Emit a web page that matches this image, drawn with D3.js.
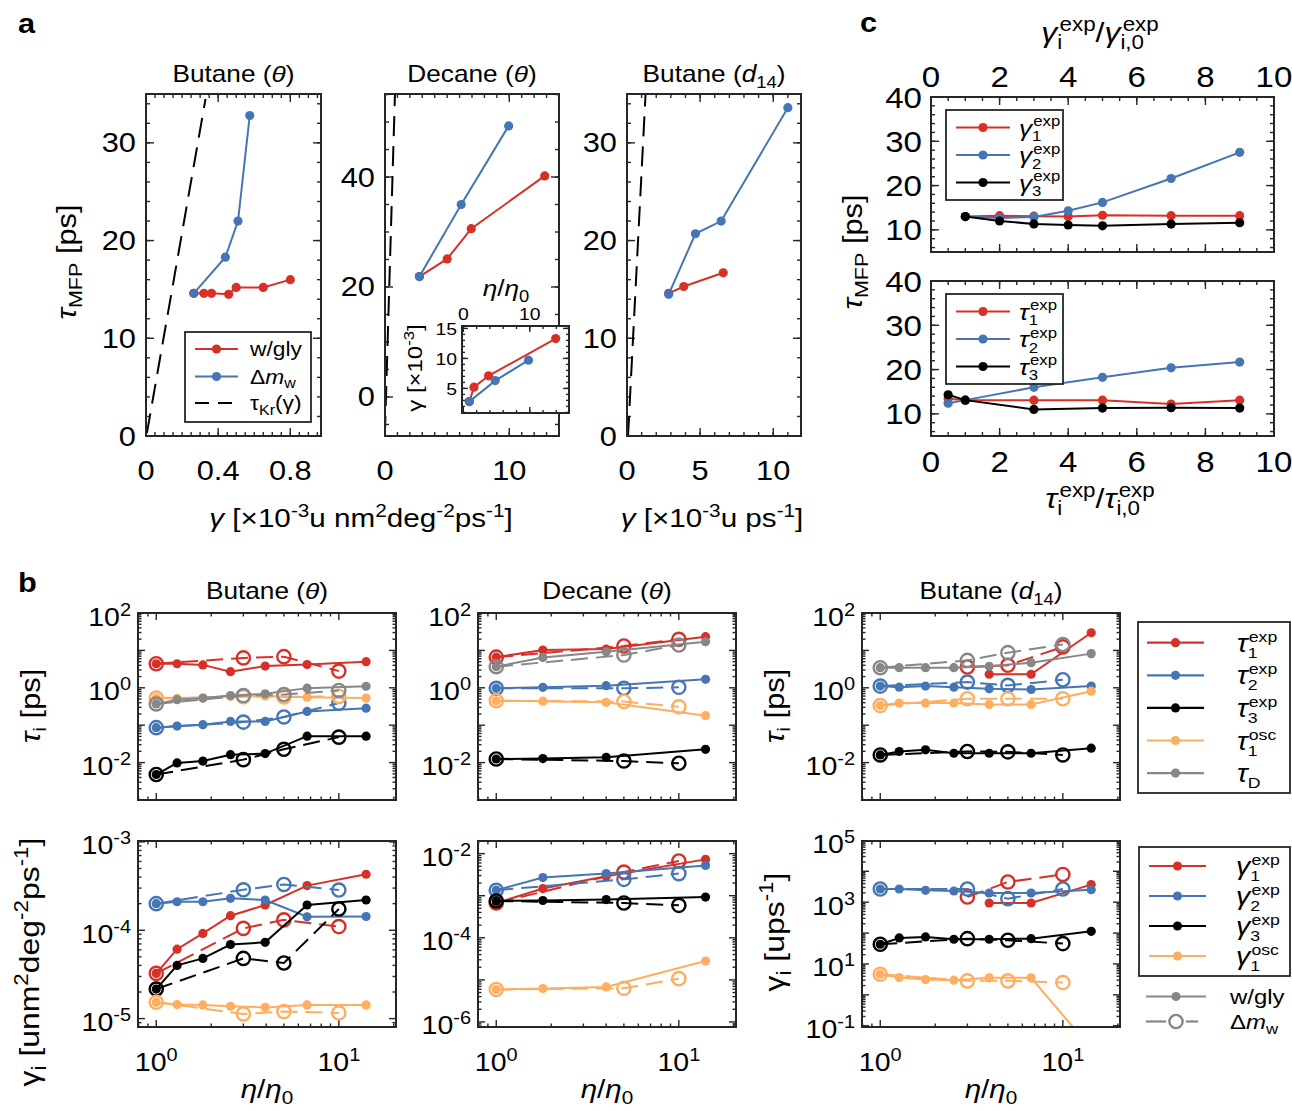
<!DOCTYPE html>
<html><head><meta charset="utf-8">
<script src="https://cdn.jsdelivr.net/npm/d3@7"></script>
<style>body{margin:0;background:#fff} text{white-space:pre}</style>
</head><body>
<script>
// ================= DATA =================
// ---- Panel a : tau_MFP vs gamma ----
const aButGlyGamma = [0.265, 0.321, 0.363, 0.458, 0.50, 0.65, 0.80];
const aButGlyTau   = [14.6, 14.6, 14.6, 14.5, 15.2, 15.2, 16.0];
const aButMwGamma  = [0.265, 0.44, 0.51, 0.575];
const aButMwTau    = [14.6, 18.3, 22.0, 32.8];
const aButKrGamma  = [0.005, 0.33];
const aButKrTau    = [0.3, 34.5];
const aDecGlyGamma = [2.77, 5.0, 6.94, 12.85];
const aDecGlyTau   = [21.9, 25.1, 30.6, 40.2];
const aDecMwGamma  = [2.77, 6.13, 9.95];
const aDecMwTau    = [21.9, 35.0, 49.3];
const aDecKrGamma  = [-0.013, 0.8];
const aDecKrTau    = [-7.1, 55];
const aD14GlyGamma = [2.85, 3.88, 6.58];
const aD14GlyTau   = [14.6, 15.3, 16.7];
const aD14MwGamma  = [2.85, 4.68, 6.44, 11.0];
const aD14MwTau    = [14.5, 20.7, 22.0, 33.6];
const aD14KrGamma  = [0.07, 1.27];
const aD14KrTau    = [0, 35];
// inset (Decane): gamma [x1e-3] vs eta/eta0
const insetGlyEta   = [0.9, 1.6, 3.8, 13.9];
const insetGlyGamma = [2.8, 5.2, 7.1, 13.3];
const insetMwEta    = [0.9, 4.8, 9.8];
const insetMwGamma  = [2.8, 6.3, 9.7];

// ---- Panel c ----
const cGammaRatio = [1, 2, 3, 4, 5, 7, 9];
const cGamma1 = [13.0, 13.2, 13.1, 13.0, 13.3, 13.2, 13.2];
const cGamma2 = [13.0, 12.7, 12.9, 14.3, 16.2, 21.6, 27.5];
const cGamma3 = [13.0, 12.0, 11.35, 11.1, 10.9, 11.3, 11.6];
const cTauRatio = [0.5, 1, 3, 5, 7, 9];
const cTau1 = [13.4, 13.1, 13.1, 13.1, 12.2, 13.1];
const cTau2 = [12.4, 13.1, 16.0, 18.25, 20.4, 21.7];
const cTau3 = [14.3, 13.1, 11.0, 11.3, 11.4, 11.3];

// ---- Panel b : x values (eta/eta0) ----
const etaGlyBut = [1, 1.3, 1.8, 2.55, 3.95, 6.7, 14.1];
const etaMwBut  = [1, 3, 5, 10];
const etaGlyDec = [1, 1.8, 4, 14];
const etaMwDec  = [1, 5, 10];
const etaGlyD14 = [1, 1.27, 1.77, 2.53, 3.95, 6.7, 14.3];
const etaMwD14  = [1, 3, 5, 10];

// Butane (theta) tau_i [ps]
const butTau1Gly   = [4.4, 4.4, 4.1, 2.7, 3.8, 4.2, 5.0];
const butTau1Mw    = [4.4, 6.3, 6.8, 2.8];
const butTau2Gly   = [0.086, 0.095, 0.103, 0.126, 0.126, 0.233, 0.286];
const butTau2Mw    = [0.086, 0.121, 0.166, 0.39];
const butTau3Gly   = [0.0048, 0.0098, 0.011, 0.0163, 0.0174, 0.051, 0.051];
const butTau3Mw    = [0.0048, 0.012, 0.0227, 0.048];
const butTauOscGly = [0.53, 0.52, 0.53, 0.59, 0.60, 0.56, 0.53];
const butTauOscMw  = [0.53, 0.58, 0.57, 0.59];
const butTauDGly   = [0.37, 0.48, 0.53, 0.62, 0.69, 0.98, 1.1];
const butTauDMw    = [0.37, 0.62, 0.66, 0.85];
// Decane (theta) tau_i [ps]
const decTau1Gly   = [6.6, 10.2, 10.9, 23.3];
const decTau1Mw    = [6.6, 13.1, 19.8];
const decTau2Gly   = [0.97, 1.03, 1.14, 1.69];
const decTau2Mw    = [0.97, 0.97, 1.03];
const decTau3Gly   = [0.0125, 0.0128, 0.0138, 0.0227];
const decTau3Mw    = [0.0125, 0.011, 0.0096];
const decTauOscGly = [0.45, 0.44, 0.41, 0.18];
const decTauOscMw  = [0.45, 0.43, 0.31];
const decTauDGly   = [3.67, 6.5, 9.2, 17.1];
const decTauDMw    = [3.67, 7.5, 13.9];
// Butane (d14) tau_i [ps]
const d14Tau1Gly   = [null, null, null, null, 2.3, 2.3, 29.6];
const d14Tau1Mw    = [null, 3.6, 4.0, 12.4];
const d14Tau2Gly   = [1.11, 1.04, 1.11, 1.04, 0.94, 0.90, 1.11];
const d14Tau2Mw    = [1.11, 1.42, 1.16, 1.64];
const d14Tau3Gly   = [0.016, 0.0198, 0.022, 0.0178, 0.0178, 0.0178, 0.0243];
const d14Tau3Mw    = [0.016, 0.0198, 0.0194, 0.016];
const d14TauOscGly = [0.335, 0.39, 0.39, 0.39, 0.36, 0.36, 0.81];
const d14TauOscMw  = [0.335, 0.51, 0.51, 0.51];
const d14TauDGly   = [3.45, 3.45, 3.45, 3.45, 3.75, 4.7, 8.2];
const d14TauDMw    = [3.45, 5.4, 8.7, 14.4];

// Butane (theta) gamma_i [u nm^2 deg^-2 ps^-1]
const butG1Gly   = [3.25e-5, 6.1e-5, 9.2e-5, 1.46e-4, 1.93e-4, 3.2e-4, 4.3e-4];
const butG1Mw    = [3.25e-5, 1.05e-4, 1.31e-4, 1.1e-4];
const butG2Gly   = [2.0e-4, 2.1e-4, 2.1e-4, 2.3e-4, 2.2e-4, 1.42e-4, 1.43e-4];
const butG2Mw    = [2.0e-4, 2.87e-4, 3.3e-4, 2.85e-4];
const butG3Gly   = [2.16e-5, 4.0e-5, 4.8e-5, 6.9e-5, 7.3e-5, 1.93e-4, 2.2e-4];
const butG3Mw    = [2.16e-5, 4.8e-5, 4.26e-5, 1.74e-4];
const butGOscGly = [1.53e-5, 1.44e-5, 1.43e-5, 1.38e-5, 1.34e-5, 1.43e-5, 1.43e-5];
const butGOscMw  = [1.53e-5, 1.13e-5, 1.2e-5, 1.16e-5];
// Decane (theta) gamma_i
const decG1Gly   = [6.7e-4, 1.48e-3, 2.9e-3, 7.3e-3];
const decG1Mw    = [6.7e-4, 3.65e-3, 6.7e-3];
const decG2Gly   = [1.35e-3, 2.7e-3, 3.35e-3, 5.25e-3];
const decG2Mw    = [1.35e-3, 2.45e-3, 3.35e-3];
const decG3Gly   = [7.5e-4, 7.7e-4, 8.1e-4, 9.3e-4];
const decG3Mw    = [7.5e-4, 6.7e-4, 5.9e-4];
const decGOscGly = [5.9e-6, 6.2e-6, 6.8e-6, 2.8e-5];
const decGOscMw  = [5.9e-6, 6.3e-6, 1.07e-5];
// Butane (d14) gamma_i [u ps^-1]
const d14G1Gly   = [null, null, null, null, 942, 942, 3700];
const d14G1Mw    = [null, 1470, 4500, 7900];
const d14G2Gly   = [2670, 2670, 2420, 2300, 1980, 1980, 2540];
const d14G2Mw    = [2670, 2670, 1300, 2670];
const d14G3Gly   = [43.4, 69.6, 75, 63, 63, 66, 114];
const d14G3Mw    = [43.4, 66, 58.5, 45.7];
const d14GOscGly = [4.66, 3.63, 3.13, 2.98, 3.55, 3.55, 0.0186];
const d14GOscMw  = [4.66, 2.84, 2.84, 2.5];

// tick label lists
const bTauTickExp = [2, 0, -2];
const butGammaTickExp = [-3, -4, -5];
const decGammaTickExp = [-2, -4, -6];
const d14GammaTickExp = [5, 3, 1, -1];
const bXTickExp = [0, 1];

// ================= DRAWING =================
const FONT = "'Liberation Sans', Arial, Helvetica, sans-serif";
const SX = 1.14; // horizontal text stretch to match the reference glyph proportions
const COL = {red: '#d73027', blue: '#4575b4', black: '#000000', orange: '#fdae61', gray: '#878787'};
const FR = '#262626';
const svg = d3.select('body').append('svg').attr('width', 1292).attr('height', 1111);
const defs = svg.append('defs');
let clipN = 0;

function rich(parent, x, y, parts, o = {}) {
  const fs = o.size || 20, anchor = o.anchor || 'start';
  const sx = o.sx || SX;
  const outer = parent.append('g').attr('transform', `translate(${x},${y})` + (o.rotate ? ` rotate(${o.rotate})` : ''));
  const g = outer.append('g');
  let cx = 0;
  function add(txt, px, py, size, italic, bold) {
    const t = g.append('text').attr('x', px).attr('y', py)
      .attr('xml:space', 'preserve')
      .attr('font-family', FONT).attr('font-size', size)
      .attr('font-style', italic ? 'italic' : 'normal')
      .attr('font-weight', bold ? 'bold' : 'normal')
      .attr('fill', o.color || '#000').text(txt);
    return t.node().getComputedTextLength();
  }
  parts.forEach(p => {
    if (typeof p === 'string') p = {t: p};
    if (p.dx) cx += p.dx;
    if (p.t) cx += add(p.t, cx, 0, p.size || fs, p.i, p.b);
    const ss = fs * (o.ss || 0.7);
    let w = 0;
    if (p.sup != null) w = Math.max(w, add(p.sup, cx + (p.supDx || 0), -fs * 0.4, ss, false) + (p.supDx || 0));
    if (p.sub != null) w = Math.max(w, add(p.sub, cx + (p.subDx || 0), fs * 0.24, ss, p.subI) + (p.subDx || 0));
    cx += w;
  });
  const W = cx * sx;
  const off = anchor === 'middle' ? -W / 2 : anchor === 'end' ? -W : 0;
  g.attr('transform', `translate(${off},0) scale(${sx},1)`);
  return W;
}

function linTicks(lo, hi, step) {
  const out = [];
  for (let k = Math.ceil(lo / step - 1e-9); k * step <= hi + 1e-9; k++) out.push(+(k * step).toFixed(6));
  return out;
}
function logMajor(lo, hi) {
  const out = [];
  for (let d = Math.floor(Math.log10(lo)) - 1; d <= Math.ceil(Math.log10(hi)) + 1; d++) {
    const v = Math.pow(10, d); if (v >= lo * 0.9999 && v <= hi * 1.0001) out.push(v);
  }
  return out;
}
function logMinor(lo, hi) {
  const out = [];
  for (let d = Math.floor(Math.log10(lo)) - 1; d <= Math.ceil(Math.log10(hi)) + 1; d++)
    for (let k = 2; k <= 9; k++) { const v = k * Math.pow(10, d); if (v >= lo && v <= hi) out.push(v); }
  return out;
}

function makeAxes(box, xs, ys, t) {
  const g = svg.append('g');
  const id = 'clip' + (clipN++);
  defs.append('clipPath').attr('id', id).append('rect')
    .attr('x', box.l).attr('y', box.t).attr('width', box.r - box.l).attr('height', box.b - box.t);
  const L = t.L || 7, l = t.l || 3.5;
  const tk = (x1, y1, x2, y2) => g.append('line').attr('x1', x1).attr('y1', y1).attr('x2', x2).attr('y2', y2)
    .attr('stroke', FR).attr('stroke-width', 1.4);
  const xt = (vals, len) => vals.forEach(v => { const x = xs(v); if (x < box.l - 0.5 || x > box.r + 0.5) return; tk(x, box.b, x, box.b - len); tk(x, box.t, x, box.t + len); });
  const yt = (vals, len) => vals.forEach(v => { const y = ys(v); if (y < box.t - 0.5 || y > box.b + 0.5) return; tk(box.l, y, box.l + len, y); tk(box.r, y, box.r - len, y); });
  xt(t.xMin, l); xt(t.xMaj, L); yt(t.yMin, l); yt(t.yMaj, L);
  const plot = svg.append('g').attr('clip-path', `url(#${id})`);
  const frame = () => svg.append('rect').attr('x', box.l).attr('y', box.t).attr('width', box.r - box.l).attr('height', box.b - box.t)
    .attr('fill', 'none').attr('stroke', FR).attr('stroke-width', 2);
  return {plot, frame};
}

function series(g, xs, ys, X, Y, color, o = {}) {
  const pts = X.map((x, i) => [x, Y[i]]).filter(p => p[1] != null);
  const line = d3.line().x(d => xs(d[0])).y(d => ys(d[1]));
  g.append('path').attr('d', line(pts)).attr('fill', 'none').attr('stroke', color)
    .attr('stroke-width', o.lw || 2).attr('stroke-dasharray', o.dash || null);
  if (o.noMarker) return;
  g.selectAll(null).data(pts).enter().append('circle')
    .attr('cx', d => xs(d[0])).attr('cy', d => ys(d[1]))
    .attr('r', o.open ? 6.6 : (o.r || 4.6))
    .attr('fill', o.open ? 'none' : color)
    .attr('stroke', o.open ? color : 'none').attr('stroke-width', o.open ? 2.4 : 0);
}

// ---------- panel labels ----------
rich(svg, 18, 33, [{t: 'a', b: true}], {size: 27});
rich(svg, 18, 592, [{t: 'b', b: true}], {size: 27});
rich(svg, 860, 32, [{t: 'c', b: true}], {size: 27});

// ---------- panel a ----------
const A_FS = 27;
function panelA(cfg) {
  const {box} = cfg;
  const xs = d3.scaleLinear().domain(cfg.xDom).range([box.l, box.r]);
  const ys = d3.scaleLinear().domain(cfg.yDom).range([box.b, box.t]);
  const ax = makeAxes(box, xs, ys, {xMaj: cfg.xMaj, xMin: cfg.xMin, yMaj: cfg.yMaj, yMin: cfg.yMin, L: 8, l: 4});
  series(ax.plot, xs, ys, cfg.kr[0], cfg.kr[1], '#000', {noMarker: true, dash: '20,10'});
  series(ax.plot, xs, ys, cfg.gly[0], cfg.gly[1], COL.red);
  series(ax.plot, xs, ys, cfg.mw[0], cfg.mw[1], COL.blue);
  ax.frame();
  cfg.xMaj.forEach((v, i) => rich(svg, xs(v), 480, [cfg.xLab[i]], {size: A_FS, anchor: 'middle'}));
  cfg.yMaj.forEach(v => rich(svg, box.l - 10, ys(v) + 9.5, [String(v)], {size: A_FS, anchor: 'end'}));
  rich(svg, (box.l + box.r) / 2, 82, cfg.title, {size: 23, anchor: 'middle'});
  return {xs, ys};
}
panelA({box: {l: 146, r: 321, t: 94, b: 436}, xDom: [0, 0.97], yDom: [0, 35],
  xMaj: [0, 0.4, 0.8], xLab: ['0', '0.4', '0.8'], xMin: linTicks(0, 0.97, 0.05),
  yMaj: [0, 10, 20, 30], yMin: linTicks(0, 35, 2),
  gly: [aButGlyGamma, aButGlyTau], mw: [aButMwGamma, aButMwTau], kr: [aButKrGamma, aButKrTau],
  title: ['Butane (', {t: 'θ', i: true}, ')']});
panelA({box: {l: 385, r: 559, t: 94, b: 436}, xDom: [0, 14], yDom: [-7.1, 55.1],
  xMaj: [0, 10], xLab: ['0', '10'], xMin: linTicks(0, 14, 1),
  yMaj: [0, 20, 40], yMin: linTicks(-7, 55, 5),
  gly: [aDecGlyGamma, aDecGlyTau], mw: [aDecMwGamma, aDecMwTau], kr: [aDecKrGamma, aDecKrTau],
  title: ['Decane (', {t: 'θ', i: true}, ')']});
panelA({box: {l: 627, r: 801, t: 94, b: 436}, xDom: [0, 11.9], yDom: [0, 35],
  xMaj: [0, 5, 10], xLab: ['0', '5', '10'], xMin: linTicks(0, 11.9, 1),
  yMaj: [0, 10, 20, 30], yMin: linTicks(0, 35, 2),
  gly: [aD14GlyGamma, aD14GlyTau], mw: [aD14MwGamma, aD14MwTau], kr: [aD14KrGamma, aD14KrTau],
  title: ['Butane (', {t: 'd', i: true, sub: '14'}, ')']});

// inset
(function () {
  const box = {l: 462, r: 569, t: 326, b: 413};
  svg.append('rect').attr('x', box.l).attr('y', box.t).attr('width', box.r - box.l).attr('height', box.b - box.t).attr('fill', '#fff');
  const xs = d3.scaleLinear().domain([-0.2, 15.9]).range([box.l, box.r]);
  const ys = d3.scaleLinear().domain([0.9, 15.4]).range([box.b, box.t]);
  const ax = makeAxes(box, xs, ys, {xMaj: [0, 10], xMin: linTicks(0, 15.9, 2), yMaj: [5, 10, 15], yMin: linTicks(1, 15.4, 1), L: 6, l: 3});
  series(ax.plot, xs, ys, insetGlyEta, insetGlyGamma, COL.red);
  series(ax.plot, xs, ys, insetMwEta, insetMwGamma, COL.blue);
  ax.frame();
  [0, 10].forEach(v => rich(svg, xs(v), 320, [String(v)], {size: 17, anchor: 'middle'}));
  [5, 10, 15].forEach(v => rich(svg, box.l - 5, ys(v) + 6.5, [String(v)], {size: 17, anchor: 'end'}));
  rich(svg, 506, 296, [{t: 'η', i: true}, '/', {t: 'η', i: true, sub: '0'}], {size: 23, anchor: 'middle'});
  rich(svg, 422, 368, ['γ [×10', {sup: '-3'}, ']'], {size: 21, anchor: 'middle', rotate: -90});
})();

// panel a legend
(function () {
  const g = svg.append('g');
  g.append('rect').attr('x', 185).attr('y', 332).attr('width', 126).attr('height', 90).attr('fill', '#fff').attr('stroke', FR).attr('stroke-width', 1.8);
  const rows = [[349, COL.red, 'gly'], [376.5, COL.blue, 'mw'], [403, '#000', 'kr']];
  rows.forEach(([y, c, k]) => {
    g.append('line').attr('x1', 195).attr('x2', 238).attr('y1', y).attr('y2', y).attr('stroke', c).attr('stroke-width', 2)
      .attr('stroke-dasharray', k === 'kr' ? '14,9' : null);
    if (k !== 'kr') g.append('circle').attr('cx', 216.5).attr('cy', y).attr('r', 4.6).attr('fill', c);
  });
  rich(g, 250, 356, ['w/gly'], {size: 20});
  rich(g, 250, 383.5, ['Δ', {t: 'm', i: true, sub: 'w'}], {size: 20});
  rich(g, 250, 410, [{t: 'τ', sub: 'Kr'}, '(γ)'], {size: 20});
})();

// panel a axis labels
rich(svg, 76, 262, [{t: 'τ', i: true, sub: 'MFP'}, ' [ps]'], {size: 27, anchor: 'middle', rotate: -90});
rich(svg, 361, 527, [{t: 'γ', i: true}, ' [×10', {sup: '-3'}, 'u nm', {sup: '2'}, 'deg', {sup: '-2'}, 'ps', {sup: '-1'}, ']'], {size: 26, anchor: 'middle'});
rich(svg, 712, 527, [{t: 'γ', i: true}, ' [×10', {sup: '-3'}, 'u ps', {sup: '-1'}, ']'], {size: 26, anchor: 'middle'});

// ---------- panel c ----------
(function () {
  const xDom = [0, 10], yDom = [5, 40];
  const boxes = [{l: 931, r: 1274, t: 97, b: 252}, {l: 931, r: 1274, t: 281, b: 436}];
  const data = [
    {X: cGammaRatio, S: [[cGamma1, COL.red], [cGamma2, COL.blue], [cGamma3, '#000']], sym: 'γ', xLabY: 87},
    {X: cTauRatio, S: [[cTau1, COL.red], [cTau2, COL.blue], [cTau3, '#000']], sym: 'τ', xLabY: 472}
  ];
  boxes.forEach((box, k) => {
    const xs = d3.scaleLinear().domain(xDom).range([box.l, box.r]);
    const ys = d3.scaleLinear().domain(yDom).range([box.b, box.t]);
    const ax = makeAxes(box, xs, ys, {xMaj: linTicks(0, 10, 2), xMin: linTicks(0, 10, 0.5), yMaj: [10, 20, 30, 40], yMin: linTicks(5, 40, 2), L: 8, l: 4});
    data[k].S.forEach(([Y, c]) => series(ax.plot, xs, ys, data[k].X, Y, c));
    ax.frame();
    linTicks(0, 10, 2).forEach(v => rich(svg, xs(v), data[k].xLabY, [String(v)], {size: 29, anchor: 'middle'}));
    [10, 20, 30, 40].forEach(v => rich(svg, box.l - 9, ys(v) + 10.5, [String(v)], {size: 29, anchor: 'end'}));
    // legend
    const lg = svg.append('g');
    const ly = box.t + 13;
    lg.append('rect').attr('x', 946).attr('y', ly).attr('width', 117).attr('height', 90).attr('fill', '#fff').attr('stroke', FR).attr('stroke-width', 1.8);
    data[k].S.forEach(([Y, c], i) => {
      const y = ly + 17.5 + i * 27.5;
      lg.append('line').attr('x1', 956).attr('x2', 1010).attr('y1', y).attr('y2', y).attr('stroke', c).attr('stroke-width', 2.2);
      lg.append('circle').attr('cx', 983).attr('cy', y).attr('r', 4.6).attr('fill', c);
      rich(lg, 1019, y + 8, [{t: data[k].sym, i: true, sup: 'exp', sub: String(i + 1), supDx: 1}], {size: 23, ss: 0.64});
    });
  });
  rich(svg, 1100, 42, [{t: 'γ', i: true, sup: 'exp', sub: 'i', supDx: 2}, '/', {t: 'γ', i: true, sup: 'exp', sub: 'i,0', supDx: 2}], {size: 28, anchor: 'middle'});
  rich(svg, 1100, 508, [{t: 'τ', i: true, sup: 'exp', sub: 'i', supDx: 2}, '/', {t: 'τ', i: true, sup: 'exp', sub: 'i,0', supDx: 2}], {size: 28, anchor: 'middle'});
})();
rich(svg, 862, 252, [{t: 'τ', i: true, sub: 'MFP'}, ' [ps]'], {size: 27, anchor: 'middle', rotate: -90});

// ---------- panel b ----------
const xLogDom = [Math.pow(10, -0.1), Math.pow(10, 1.313)];
const bCols = [{l: 138, r: 396}, {l: 478, r: 736}, {l: 862, r: 1120}];
const bRows = [{t: 613, b: 800}, {t: 841, b: 1027}];
const bTitles = [['Butane (', {t: 'θ', i: true}, ')'], ['Decane (', {t: 'θ', i: true}, ')'], ['Butane (', {t: 'd', i: true, sub: '14'}, ')']];
const bXGly = [etaGlyBut, etaGlyDec, etaGlyD14];
const bXMw = [etaMwBut, etaMwDec, etaMwD14];
const bTau = [
  [[butTau1Gly, butTau1Mw, COL.red], [butTau2Gly, butTau2Mw, COL.blue], [butTau3Gly, butTau3Mw, COL.black], [butTauOscGly, butTauOscMw, COL.orange], [butTauDGly, butTauDMw, COL.gray]],
  [[decTau1Gly, decTau1Mw, COL.red], [decTau2Gly, decTau2Mw, COL.blue], [decTau3Gly, decTau3Mw, COL.black], [decTauOscGly, decTauOscMw, COL.orange], [decTauDGly, decTauDMw, COL.gray]],
  [[d14Tau1Gly, d14Tau1Mw, COL.red], [d14Tau2Gly, d14Tau2Mw, COL.blue], [d14Tau3Gly, d14Tau3Mw, COL.black], [d14TauOscGly, d14TauOscMw, COL.orange], [d14TauDGly, d14TauDMw, COL.gray]]
];
const bGam = [
  [[butG1Gly, butG1Mw, COL.red], [butG2Gly, butG2Mw, COL.blue], [butG3Gly, butG3Mw, COL.black], [butGOscGly, butGOscMw, COL.orange]],
  [[decG1Gly, decG1Mw, COL.red], [decG2Gly, decG2Mw, COL.blue], [decG3Gly, decG3Mw, COL.black], [decGOscGly, decGOscMw, COL.orange]],
  [[d14G1Gly, d14G1Mw, COL.red], [d14G2Gly, d14G2Mw, COL.blue], [d14G3Gly, d14G3Mw, COL.black], [d14GOscGly, d14GOscMw, COL.orange]]
];
const bYDom = [
  [[1e-3, 1e2], [1e-3, 1e2], [1e-3, 1e2]],
  [[Math.pow(10, -5.095), Math.pow(10, -2.99)], [Math.pow(10, -6.12), Math.pow(10, -1.70)], [Math.pow(10, -1.04), Math.pow(10, 4.98)]]
];
const bYTicks = [[bTauTickExp, bTauTickExp, bTauTickExp], [butGammaTickExp, decGammaTickExp, d14GammaTickExp]];
const B_FS = 25;

for (let r = 0; r < 2; r++) {
  for (let c = 0; c < 3; c++) {
    const box = {l: bCols[c].l, r: bCols[c].r, t: bRows[r].t, b: bRows[r].b};
    const xs = d3.scaleLog().domain(xLogDom).range([box.l, box.r]);
    const ys = d3.scaleLog().domain(bYDom[r][c]).range([box.b, box.t]);
    const [ylo, yhi] = bYDom[r][c];
    const ax = makeAxes(box, xs, ys, {xMaj: logMajor(...xLogDom), xMin: logMinor(...xLogDom), yMaj: logMajor(ylo, yhi), yMin: logMinor(ylo, yhi), L: 7, l: 3.5});
    const S = r === 0 ? bTau[c] : bGam[c];
    S.forEach(([gly, mw, col]) => {
      series(ax.plot, xs, ys, bXGly[c], gly, col);
      series(ax.plot, xs, ys, bXMw[c], mw, col, {open: true, dash: '17,8'});
    });
    ax.frame();
    bYTicks[r][c].forEach(e => rich(svg, box.l - 7, ys(Math.pow(10, e)) + 12.5, ['10', {sup: String(e)}], {size: B_FS, anchor: 'end'}));
    if (r === 1) {
      bXTickExp.forEach(e => rich(svg, xs(Math.pow(10, e)), 1071, ['10', {sup: String(e)}], {size: B_FS, anchor: 'middle'}));
      rich(svg, (box.l + box.r) / 2, 1098, [{t: 'η', i: true}, '/', {t: 'η', i: true, sub: '0'}], {size: 26, anchor: 'middle'});
    } else {
      rich(svg, (box.l + box.r) / 2, 599, bTitles[c], {size: 23, anchor: 'middle'});
    }
  }
}
// panel b y-axis labels
rich(svg, 40, 706, [{t: 'τ', i: true, sub: 'i'}, ' [ps]'], {size: 27, anchor: 'middle', rotate: -90});
rich(svg, 784, 706, [{t: 'τ', i: true, sub: 'i'}, ' [ps]'], {size: 27, anchor: 'middle', rotate: -90});
rich(svg, 39, 962, [{t: 'γ', sub: 'i'}, ' [unm', {sup: '2'}, 'deg', {sup: '-2'}, 'ps', {sup: '-1'}, ']'], {size: 28, anchor: 'middle', rotate: -90});
rich(svg, 784, 932, [{t: 'γ', sub: 'i'}, ' [ups', {sup: '-1'}, ']'], {size: 28, anchor: 'middle', rotate: -90});

// panel b legends
(function () {
  const g = svg.append('g');
  g.append('rect').attr('x', 1138).attr('y', 622).attr('width', 152).attr('height', 171).attr('fill', '#fff').attr('stroke', FR).attr('stroke-width', 1.8);
  const tl = [[COL.red, 'τ', 'exp', '1'], [COL.blue, 'τ', 'exp', '2'], [COL.black, 'τ', 'exp', '3'], [COL.orange, 'τ', 'osc', '1'], [COL.gray, 'τ', null, 'D']];
  tl.forEach(([c, s, sup, sub], i) => {
    const y = 642.7 + i * 32.6;
    g.append('line').attr('x1', 1147).attr('x2', 1204).attr('y1', y).attr('y2', y).attr('stroke', c).attr('stroke-width', 2.2);
    g.append('circle').attr('cx', 1175.5).attr('cy', y).attr('r', 4.6).attr('fill', c);
    const p = {t: s, i: true, sub: sub, supDx: 1};
    if (sup) p.sup = sup;
    rich(g, 1237, y + 9, [p], {size: 25, ss: 0.62});
  });
  g.append('rect').attr('x', 1139).attr('y', 847).attr('width', 151).attr('height', 129).attr('fill', '#fff').attr('stroke', FR).attr('stroke-width', 1.8);
  const gl = [[COL.red, 'exp', '1'], [COL.blue, 'exp', '2'], [COL.black, 'exp', '3'], [COL.orange, 'osc', '1']];
  gl.forEach(([c, sup, sub], i) => {
    const y = 866 + i * 30;
    g.append('line').attr('x1', 1149).attr('x2', 1206).attr('y1', y).attr('y2', y).attr('stroke', c).attr('stroke-width', 2.2);
    g.append('circle').attr('cx', 1177.5).attr('cy', y).attr('r', 4.6).attr('fill', c);
    rich(g, 1236, y + 9, [{t: 'γ', i: true, sup: sup, sub: sub, supDx: 1}], {size: 25, ss: 0.62});
  });
  g.append('line').attr('x1', 1146).attr('x2', 1206).attr('y1', 996.5).attr('y2', 996.5).attr('stroke', COL.gray).attr('stroke-width', 2.2);
  g.append('circle').attr('cx', 1176).attr('cy', 996.5).attr('r', 4.6).attr('fill', COL.gray);
  g.append('line').attr('x1', 1146).attr('x2', 1166).attr('y1', 1021.5).attr('y2', 1021.5).attr('stroke', COL.gray).attr('stroke-width', 2.2);
  g.append('line').attr('x1', 1186).attr('x2', 1198).attr('y1', 1021.5).attr('y2', 1021.5).attr('stroke', COL.gray).attr('stroke-width', 2.2);
  g.append('circle').attr('cx', 1176).attr('cy', 1021.5).attr('r', 6.6).attr('fill', 'none').attr('stroke', COL.gray).attr('stroke-width', 2.4);
  rich(g, 1230, 1004, ['w/gly'], {size: 21});
  rich(g, 1230, 1029, ['Δ', {t: 'm', i: true, sub: 'w'}], {size: 21});
})();
</script>
</body></html>
